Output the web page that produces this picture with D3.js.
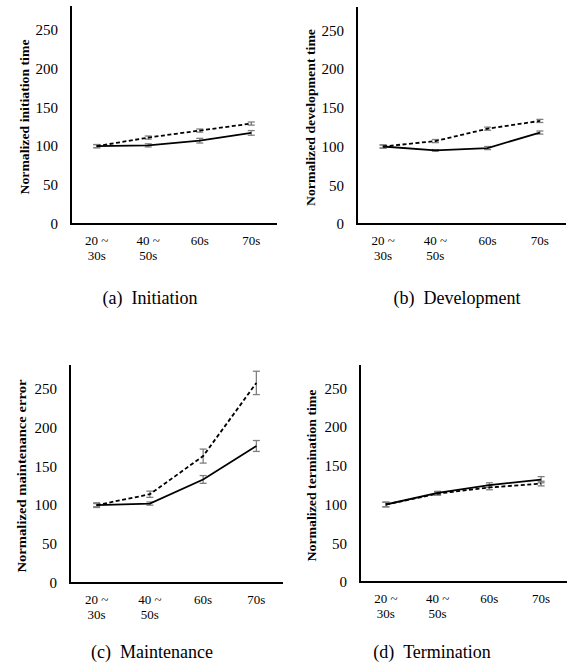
<!DOCTYPE html>
<html>
<head>
<meta charset="utf-8">
<script src="https://cdn.jsdelivr.net/npm/d3@7/dist/d3.min.js"></script>
<style>
  body { margin: 0; background: #fff; }
  svg { display: block; }
</style>
</head>
<body>
<script>
var fontSerif = "\"Liberation Serif\"";

// categories on the x axis (two lines each)
var categories = ["20 ~\n30s", "40 ~\n50s", "60s", "70s"];
var yTicks = [0, 50, 100, 150, 200, 250];

// (a) initiation
var initSolid = [100, 101, 107, 117];
var initSolidErr = [2, 2, 3, 3];
var initDashed = [100, 111, 120, 129];
var initDashedErr = [2, 2, 2, 2];

// (b) development
var devSolid = [100, 95, 98, 118];
var devSolidErr = [2, 1, 2, 2];
var devDashed = [100, 107, 123, 133];
var devDashedErr = [2, 2, 2, 2];

// (c) maintenance
var mainSolid = [100, 102, 133, 176];
var mainSolidErr = [2, 2, 5, 7];
var mainDashed = [100, 114, 163, 257];
var mainDashedErr = [3, 4, 9, 15];

// (d) termination
var termSolid = [100, 115, 125, 132];
var termSolidErr = [3, 2, 3, 4];
var termDashed = [100, 114, 122, 127];
var termDashedErr = [3, 2, 3, 3];

var yLabels = ["Normalized initiation time", "Normalized development time",
               "Normalized maintenance error", "Normalized termination time"];
var captions = ["(a)\u00a0\u00a0Initiation", "(b)\u00a0\u00a0Development",
                "(c)\u00a0\u00a0Maintenance", "(d)\u00a0\u00a0Termination"];

var panels = [
  {x0: 71, x1: 277, top: 6, base: 224, labX: 24, labLen: 155, capX: 150, capY: 304,
   solid: initSolid, solidErr: initSolidErr, dashed: initDashed, dashedErr: initDashedErr},
  {x0: 357, x1: 566, top: 7, base: 224, labX: 310, labLen: 177, capX: 457, capY: 304,
   solid: devSolid, solidErr: devSolidErr, dashed: devDashed, dashedErr: devDashedErr},
  {x0: 70, x1: 283, top: 365, base: 583, labX: 21, labLen: 193, capX: 152, capY: 658,
   solid: mainSolid, solidErr: mainSolidErr, dashed: mainDashed, dashedErr: mainDashedErr},
  {x0: 360, x1: 567, top: 365, base: 582, labX: 311, labLen: 172, capX: 432, capY: 658,
   solid: termSolid, solidErr: termSolidErr, dashed: termDashed, dashedErr: termDashedErr}
];

var svg = d3.select("body").append("svg")
    .attr("width", 567)
    .attr("height", 667);

panels.forEach(function(p, k){
    var x = d3.scaleBand().domain(categories).range([p.x0, p.x1]);
    var y = d3.scaleLinear().domain([0, 280]).range([p.base, p.top]);
    var g = svg.append("g");

    // y axis: labels only, no tick marks
    var yAxis = d3.axisLeft(y).tickValues(yTicks).tickSize(0).tickPadding(13);
    var ya = g.append("g")
        .attr("transform", "translate(" + p.x0 + ",0)")
        .call(yAxis);
    ya.attr("font-family", null).attr("font-size", null);
    ya.select(".domain").remove();
    ya.selectAll("text")
        .style("font-family", fontSerif)
        .style("font-size", "15px")
        .style("fill", "#000");

    // x axis labels, two lines
    var xa = g.append("g");
    categories.forEach(function(c){
        var t = xa.append("text")
            .attr("x", x(c) + x.bandwidth()/2)
            .attr("y", p.base + 21)
            .attr("text-anchor", "middle")
            .style("font-family", fontSerif)
            .style("font-size", "13px");
        c.split("\n").forEach(function(s, i){
            t.append("tspan").attr("x", x(c) + x.bandwidth()/2)
                .attr("dy", i == 0 ? 0 : 15).text(s);
        });
    });

    // axis lines
    g.append("line").attr("x1", p.x0).attr("x2", p.x0).attr("y1", p.top).attr("y2", p.base + 1)
        .attr("stroke", "#000").attr("stroke-width", 2);
    g.append("line").attr("x1", p.x0 - 1).attr("x2", p.x1).attr("y1", p.base).attr("y2", p.base)
        .attr("stroke", "#000").attr("stroke-width", 2);

    // error bars
    [[p.solid, p.solidErr], [p.dashed, p.dashedErr]].forEach(function(s){
        var eb = g.append("g").attr("stroke", "#7f7f7f").attr("stroke-width", 1.3);
        s[0].forEach(function(v, i){
            var cx = x(categories[i]) + x.bandwidth()/2;
            var e = s[1][i];
            eb.append("line").attr("x1", cx).attr("x2", cx)
                .attr("y1", y(v - e)).attr("y2", y(v + e));
            eb.append("line").attr("x1", cx - 3.5).attr("x2", cx + 3.5)
                .attr("y1", y(v - e)).attr("y2", y(v - e));
            eb.append("line").attr("x1", cx - 3.5).attr("x2", cx + 3.5)
                .attr("y1", y(v + e)).attr("y2", y(v + e));
        });
    });

    var line = d3.line()
        .x(function(d, i){ return x(categories[i]) + x.bandwidth()/2; })
        .y(function(d){ return y(d); });

    g.append("path").datum(p.dashed).attr("d", line)
        .attr("fill", "none").attr("stroke", "#000").attr("stroke-width", 1.8)
        .attr("stroke-dasharray", "4,2.5");
    g.append("path").datum(p.solid).attr("d", line)
        .attr("fill", "none").attr("stroke", "#000").attr("stroke-width", 1.8);

    // y label
    var cy = (p.top + p.base) / 2 + 2;
    g.append("text")
        .attr("transform", "translate(" + p.labX + "," + cy + ") rotate(-90)")
        .attr("text-anchor", "middle")
        .attr("dy", "0.35em")
        .attr("textLength", p.labLen)
        .attr("lengthAdjust", "spacingAndGlyphs")
        .style("font-family", fontSerif)
        .style("font-size", "13px")
        .style("font-weight", "bold")
        .text(yLabels[k]);

    // caption
    g.append("text")
        .attr("x", p.capX).attr("y", p.capY)
        .attr("text-anchor", "middle")
        .style("font-family", fontSerif)
        .style("font-size", "18px")
        .text(captions[k]);
});
</script>
</body>
</html>
